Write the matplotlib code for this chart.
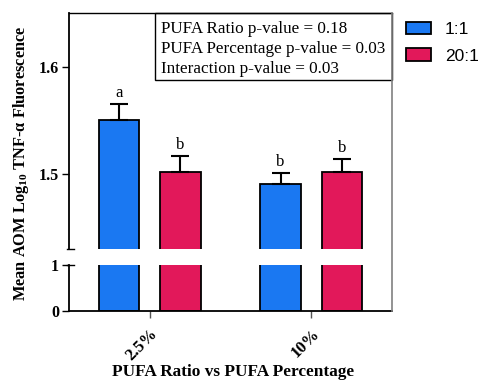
import numpy as np
import matplotlib
matplotlib.use("Agg")
import matplotlib.pyplot as plt
from matplotlib.patches import Rectangle
from matplotlib.lines import Line2D

plt.rcParams['font.family'] = ['Liberation Serif', 'DejaVu Serif']
plt.rcParams['mathtext.fontset'] = 'custom'
plt.rcParams['mathtext.rm'] = 'Liberation Serif:bold'
plt.rcParams['mathtext.bf'] = 'Liberation Serif:bold'

# data
groups = ['2.5%', '10%']
ratios = ['1:1', '20:1']
means = {'1:1': [1.550, 1.491], '20:1': [1.502, 1.502]}
sems = {'1:1': [0.015, 0.010], '20:1': [0.015, 0.012]}
letters = {'1:1': ['a', 'b'], '20:1': ['b', 'b']}
pvals = ['PUFA Ratio p-value = 0.18',
         'PUFA Percentage p-value = 0.03',
         'Interaction p-value = 0.03']

colors = {'1:1': '#1a78f2', '20:1': '#e2185a'}
W, H = 485, 382
fig = plt.figure(figsize=(W / 100, H / 100), dpi=100)

def px_axes(l, t, r, b):
    return fig.add_axes([l / W, (H - b) / H, (r - l) / W, (b - t) / H])

ax_top = px_axes(69, 13, 392, 249)
ax_bot = px_axes(69, 265, 392, 311)

x = np.arange(len(groups))
width = 0.25
offs = {'1:1': -0.19, '20:1': 0.19}

handles = []
for ax in (ax_top, ax_bot):
    for r in ratios:
        b = ax.bar(x + offs[r], means[r], width, color=colors[r],
                   edgecolor='black', linewidth=1.3, label=r)
        if ax is ax_top:
            handles.append(b)
            ax.errorbar(x + offs[r], means[r], yerr=[np.zeros(len(x)), sems[r]],
                        fmt='none', ecolor='black', elinewidth=1.5,
                        capsize=6.5, capthick=1.5)
            for xi, m, s, let in zip(x + offs[r], means[r], sems[r], letters[r]):
                ax.annotate(let, (xi, m + s), xytext=(0, 5), textcoords='offset points',
                            ha='center', va='baseline', fontsize=12)

for ax in (ax_top, ax_bot):
    ax.set_xlim(-0.5, 1.5)
    ax.spines['right'].set_visible(False)
    ax.spines['left'].set_linewidth(1.3)
    ax.tick_params(axis='y', length=5, width=1, labelsize=11.5, pad=2)

ax_top.set_ylim(1.43, 1.65)
ax_top.set_yticks([1.5, 1.6])
ax_top.set_yticklabels(['1.5', '1.6'], fontweight='bold')
ax_top.spines['bottom'].set_visible(False)
ax_top.spines['top'].set_linewidth(1.0)
ax_top.set_xticks([])

ax_bot.set_ylim(0, 1)
ax_bot.set_yticks([0, 1])
ax_bot.set_yticklabels(['0', '1'], fontweight='bold')
ax_bot.spines['top'].set_visible(False)
ax_bot.spines['bottom'].set_linewidth(1.3)
ax_bot.set_xticks(x)
ax_bot.set_xticklabels(groups, rotation=45, ha='right', rotation_mode='anchor',
                       fontsize=12, fontweight='bold')
ax_bot.tick_params(axis='x', length=5, width=1, color='#555555', pad=6)

# break marks on the left spine
ax_top.plot([-0.006, 0.016], [0, 0], transform=ax_top.transAxes, color='black',
            lw=1, clip_on=False)
ax_bot.plot([-0.006, 0.016], [1, 1], transform=ax_bot.transAxes, color='black',
            lw=1, clip_on=False)

# continuous grey right edge
fig.add_artist(Line2D([392 / W, 392 / W], [(H - 311) / H, (H - 13) / H],
                      color='#808080', lw=1.2))

# p-value box
ax_top.add_patch(Rectangle((0.266, 0.716), 0.734, 0.284, transform=ax_top.transAxes,
                           fill=False, edgecolor='black', lw=1, clip_on=False))
for i, t in enumerate(pvals):
    fig.text(161 / W, (H - (33 + 20 * i)) / H, t, fontsize=12.3, va='baseline', ha='left')

fig.text(21 / W, (H - 163) / H, 'Mean AOM Log$_{10}$ TNF-α Fluorescence', rotation=90,
         ha='center', va='center', fontsize=11.8, fontweight='bold')
fig.text(233 / W, (H - 372) / H, 'PUFA Ratio vs PUFA Percentage',
         ha='center', va='center', fontsize=12.4, fontweight='bold')

fig.legend(handles=handles, labels=ratios, loc='upper left',
           bbox_to_anchor=(406 / W, (H - 22) / H), frameon=False,
           prop={'family': 'Liberation Sans', 'size': 12.5},
           handlelength=1.45, handleheight=0.7, handletextpad=0.8,
           labelspacing=0.65, borderpad=0, borderaxespad=0)

fig.savefig('out.png', dpi=100)
